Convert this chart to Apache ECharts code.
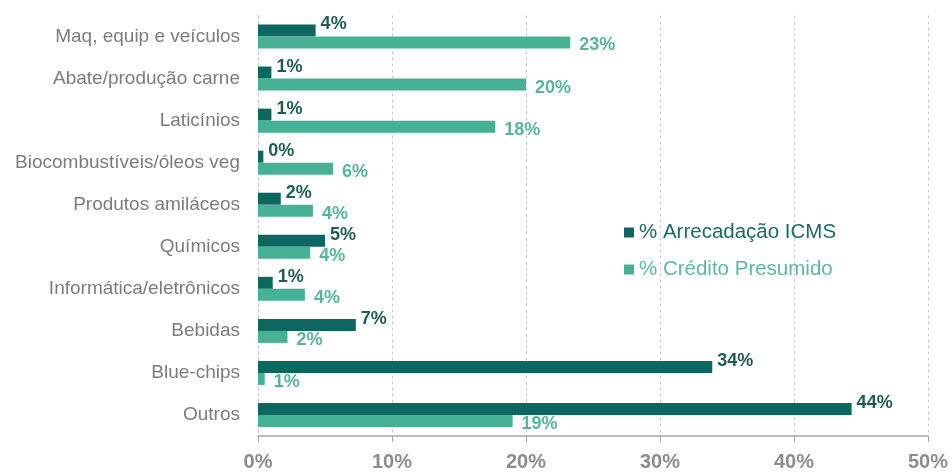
<!DOCTYPE html>
<html>
<head>
<meta charset="utf-8">
<script src="https://cdn.jsdelivr.net/npm/echarts@6/dist/echarts.min.js"></script>
<style>
  html, body { margin: 0; padding: 0; background: #fff; }
  #chart { width: 952px; height: 472px; }
</style>
</head>
<body>
<div id="chart"></div>
<script>
var categories = ['Maq, equip e veículos', 'Abate/produção carne', 'Laticínios', 'Biocombustíveis/óleos veg',
	'Produtos amiláceos', 'Químicos', 'Informática/eletrônicos', 'Bebidas', 'Blue-chips', 'Outros'];
var arrecadacao = [4.3, 1.0, 1.0, 0.4, 1.7, 5.0, 1.1, 7.3, 33.9, 44.3];
var credito = [23.3, 20.0, 17.7, 5.6, 4.1, 3.9, 3.5, 2.2, 0.5, 19.0];
var seriesNames = ['% Arrecadação ICMS', '% Crédito Presumido'];

var darkColor = '#0b675f';
var lightColor = '#47b196';

function pct(p){
	return Math.round(p.value) + '%';
}

var option = {
	animation : false,
	grid : { left : 258, right : 24, top : 15.5, bottom : 33 },
	legend : {
		orient : 'vertical',
		left : 619,
		top : 217,
		itemWidth : 10,
		itemHeight : 10,
		itemGap : 16,
		icon : 'rect',
		data : [
			{ name : seriesNames[0], textStyle : { color : '#1c6b63' } },
			{ name : seriesNames[1], textStyle : { color : '#5db8a1' } }
		],
		textStyle : { fontFamily : 'Liberation Sans', fontSize : 20.5 }
	},
	xAxis : {
		type : 'value',
		min : 0,
		max : 50,
		interval : 10,
		axisLine : { show : true, lineStyle : { color : '#a6a6a6', width : 1.5 } },
		axisTick : { show : true, length : 6, lineStyle : { color : '#a6a6a6' } },
		axisLabel : {
			margin : 16,
			formatter : '{value}%',
			fontFamily : 'Liberation Sans',
			fontSize : 20,
			fontWeight : 'bold',
			color : '#8c8c8c'
		},
		splitLine : { show : true, lineStyle : { color : '#c8c8c8', type : [3, 3] } }
	},
	yAxis : {
		type : 'category',
		inverse : true,
		data : categories,
		axisLine : { show : true, lineStyle : { color : '#c8c8c8', type : [3, 3] } },
		axisTick : { show : false },
		axisLabel : {
			margin : 18,
			fontFamily : 'Liberation Sans',
			fontSize : 19,
			color : '#7c7c7c'
		}
	},
	series : [
		{
			name : seriesNames[0],
			type : 'bar',
			data : arrecadacao,
			barWidth : 12,
			barGap : '0%',
			itemStyle : { color : darkColor },
			label : {
				show : true,
				position : 'right',
				distance : 5,
				offset : [0, -6],
				formatter : pct,
				fontFamily : 'Liberation Sans',
				fontSize : 18,
				fontWeight : 'bold',
				color : '#1d5d56'
			}
		},
		{
			name : seriesNames[1],
			type : 'bar',
			data : credito,
			barWidth : 12,
			barGap : '0%',
			itemStyle : { color : lightColor },
			label : {
				show : true,
				position : 'right',
				distance : 9,
				offset : [0, 3],
				formatter : pct,
				fontFamily : 'Liberation Sans',
				fontSize : 18,
				fontWeight : 'bold',
				color : '#56b59d'
			}
		}
	]
};

var chart = echarts.init(document.getElementById('chart'));
chart.setOption(option);
</script>
</body>
</html>
